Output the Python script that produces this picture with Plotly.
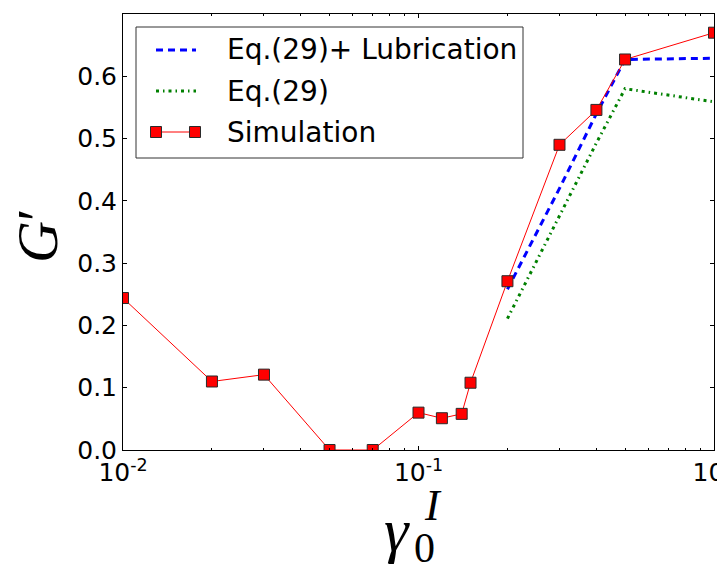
import plotly.graph_objects as go

# ---- data ----
gamma_sim = [0.01, 0.02, 0.03, 0.05, 0.07, 0.10, 0.12, 0.14, 0.15, 0.20, 0.30, 0.40, 0.50, 1.00]
G_sim = [0.244, 0.110, 0.121, 0.000, 0.000, 0.060, 0.051, 0.058, 0.108, 0.271, 0.490, 0.546, 0.627, 0.670]

gamma_th = [0.20, 0.30, 0.40, 0.50, 1.00]
G_eq29_lub = [0.258, 0.420, 0.540, 0.627, 0.629]
G_eq29 = [0.211, 0.376, 0.493, 0.580, 0.559]

x_tickvals = [0.01, 0.1, 1.0]
x_ticktext = ["10<sup>-2</sup>", "10<sup>-1</sup>", "10<sup>0</sup>"]
x_minor = [0.02, 0.03, 0.04, 0.05, 0.06, 0.07, 0.08, 0.09,
           0.2, 0.3, 0.4, 0.5, 0.6, 0.7, 0.8, 0.9]
y_tickvals = [0.0, 0.1, 0.2, 0.3, 0.4, 0.5, 0.6, 0.7]

legend_labels = ["Eq.(29)+ Lubrication", "Eq.(29)", "Simulation"]

# ---- layout geometry (pixels) ----
W, H = 717, 571
L, R, T, B = 123, 3, 14, 121
PW, PH = W - L - R, H - T - B

BLUE = "#0000ff"
GREEN = "#008000"
RED = "#ff0000"
EDGE = "#2a2a2a"


def px(x):
    return (x - L) / PW


def py(y):
    return (H - B - y) / PH


fig = go.Figure()

fig.add_trace(go.Scatter(
    x=gamma_th, y=G_eq29_lub, mode="lines", name=legend_labels[0],
    line=dict(color=BLUE, width=3, dash="7px,5px"), showlegend=False))
fig.add_trace(go.Scatter(
    x=gamma_th, y=G_eq29, mode="lines", name=legend_labels[1],
    line=dict(color=GREEN, width=3, dash="3px,4px,1.5px,4px"), showlegend=False))
fig.add_trace(go.Scatter(
    x=gamma_sim, y=G_sim, mode="lines+markers", name=legend_labels[2],
    line=dict(color=RED, width=1),
    marker=dict(symbol="square", size=11, color=RED, line=dict(color=EDGE, width=1)),
    showlegend=False))

axis_common = dict(
    showline=True, linecolor="black", linewidth=1, mirror="ticks",
    ticks="inside", ticklen=4, tickwidth=1, tickcolor="black",
    showgrid=False, zeroline=False,
    tickfont=dict(family="DejaVu Sans", size=25, color="black"),
)

fig.update_xaxes(
    type="log", range=[-2, 0], tickvals=x_tickvals, ticktext=x_ticktext,
    ticklabeloverflow="allow",
    minor=dict(tickvals=x_minor, ticks="inside", ticklen=2, tickwidth=1,
               tickcolor="black", showgrid=False),
    automargin=False, **axis_common)
fig.update_yaxes(
    range=[0, 0.7], tickvals=y_tickvals, tickformat=".1f",
    automargin=False, **axis_common)

# ---- manual legend (matplotlib style, two markers per line) ----
shapes = []
annotations = []
shapes.append(dict(type="rect", xref="paper", yref="paper",
                   x0=px(136), x1=px(523), y0=py(27), y1=py(158),
                   line=dict(color="#333333", width=1), fillcolor="white", layer="above"))
rows = [50, 91, 132]
shapes.append(dict(type="line", xref="paper", yref="paper", x0=px(156), x1=px(196),
                   y0=py(rows[0]), y1=py(rows[0]), line=dict(color=BLUE, width=3, dash="7px,5px"),
                   layer="above"))
shapes.append(dict(type="line", xref="paper", yref="paper", x0=px(156), x1=px(196),
                   y0=py(rows[1]), y1=py(rows[1]),
                   line=dict(color=GREEN, width=3, dash="3px,4px,1.5px,4px"), layer="above"))
shapes.append(dict(type="line", xref="paper", yref="paper", x0=px(156), x1=px(195),
                   y0=py(rows[2]), y1=py(rows[2]), line=dict(color=RED, width=1), layer="above"))
for cx in (156, 195):
    shapes.append(dict(type="rect", xref="paper", yref="paper",
                       x0=px(cx - 5.5), x1=px(cx + 5.5), y0=py(rows[2] - 5.5), y1=py(rows[2] + 5.5),
                       line=dict(color=EDGE, width=1), fillcolor=RED, layer="above"))
for lab, ry in zip(legend_labels, rows):
    annotations.append(dict(xref="paper", yref="paper", x=px(225), y=py(ry),
                            xanchor="left", yanchor="middle", text=lab, showarrow=False,
                            font=dict(family="DejaVu Sans", size=28, color="black")))

# ---- axis titles (math-like) ----
serif = "Liberation Serif"
annotations.append(dict(xref="paper", yref="paper", x=px(38), y=py(236),
                        text="<i>G</i>′", textangle=-90, showarrow=False,
                        xanchor="center", yanchor="middle",
                        font=dict(family=serif, size=58, color="black")))
annotations.append(dict(xref="paper", yref="paper", x=px(397), y=py(530),
                        text="<i>γ</i>", showarrow=False, xanchor="center", yanchor="middle",
                        font=dict(family=serif, size=62, color="black")))
annotations.append(dict(xref="paper", yref="paper", x=px(424), y=py(548),
                        text="0", showarrow=False, xanchor="center", yanchor="middle",
                        font=dict(family=serif, size=42, color="black")))
annotations.append(dict(xref="paper", yref="paper", x=px(433), y=py(505),
                        text="<i>I</i>", showarrow=False, xanchor="center", yanchor="middle",
                        font=dict(family=serif, size=44, color="black")))

fig.update_layout(
    width=W, height=H,
    margin=dict(l=L, r=R, t=T, b=B, pad=0),
    paper_bgcolor="white", plot_bgcolor="white",
    showlegend=False,
    shapes=shapes, annotations=annotations,
)

fig.write_html("out.html")
